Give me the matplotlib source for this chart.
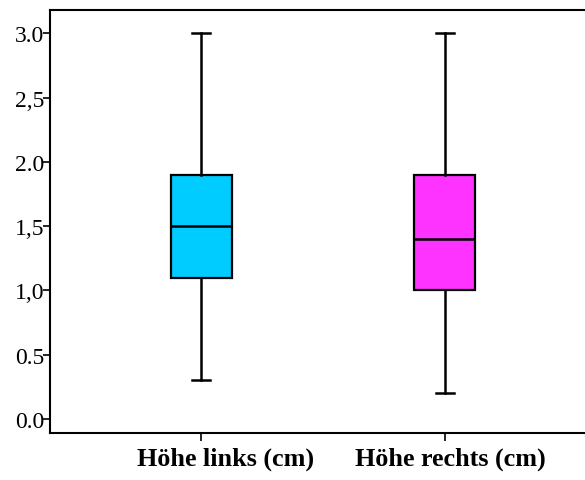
import matplotlib
matplotlib.use('Agg')
import matplotlib.pyplot as plt
import matplotlib.transforms as mtransforms

# five-number summaries
labels = ['Höhe links (cm)', 'Höhe rechts (cm)']
whislo = [0.3, 0.2]
q1 = [1.1, 1.0]
med = [1.5, 1.4]
q3 = [1.9, 1.9]
whishi = [3.0, 3.0]
colors = ['#00CCFF', '#FF33FF']
positions = [1, 2]

yticks = [0.0, 0.5, 1.0, 1.5, 2.0, 2.5, 3.0]
ytick_labels = ['0.0', '0.5', '1,0', '1,5', '2.0', '2,5', '3.0']

plt.rcParams['font.family'] = ['Liberation Serif', 'DejaVu Serif']

stats = []
for i in range(len(labels)):
    stats.append({'label': labels[i], 'whislo': whislo[i], 'q1': q1[i],
                  'med': med[i], 'q3': q3[i], 'whishi': whishi[i], 'fliers': []})

fig = plt.figure(figsize=(5.85, 4.81), dpi=100)
ax = fig.add_axes([0.0855, 0.0977, 0.9145, 0.879])

bp = ax.bxp(stats, positions=positions, widths=0.25, capwidths=0.074,
            patch_artist=True, showfliers=False,
            boxprops=dict(linewidth=1.6, edgecolor='black'),
            medianprops=dict(color='black', linewidth=1.8),
            whiskerprops=dict(color='black', linewidth=1.8),
            capprops=dict(color='black', linewidth=1.8))
for patch, c in zip(bp['boxes'], colors):
    patch.set_facecolor(c)

ax.set_xlim(0.381, 2.574)
ax.set_ylim(-0.11, 3.18)
ax.set_yticks(yticks)
ax.set_yticklabels(ytick_labels, fontsize=17)
ax.set_xticks(positions)
ax.set_xticklabels([])

# category labels sit a bit right of their ticks in the original
shifts = [0.25, 0.05]
for pos, lab, dx in zip(positions, labels, shifts):
    tr = ax.get_xaxis_transform() + mtransforms.ScaledTranslation(dx, -0.14, fig.dpi_scale_trans)
    ax.text(pos, 0, lab, transform=tr, ha='center', va='top',
            fontsize=18.8, fontweight='bold')

ax.spines['right'].set_visible(False)
for s in ['left', 'top', 'bottom']:
    ax.spines[s].set_linewidth(1.5)
ax.tick_params(axis='y', length=5, width=1.2, pad=-1)
ax.tick_params(axis='x', length=6, width=1.2)

fig.savefig('out.png', dpi=100)
